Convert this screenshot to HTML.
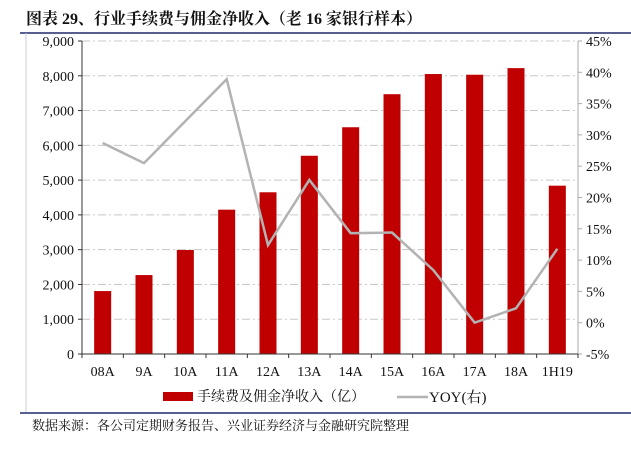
<!DOCTYPE html>
<html><head><meta charset="utf-8"><style>
body{margin:0;background:#fff;width:631px;height:459px;overflow:hidden;font-family:"Liberation Serif","Noto Serif CJK SC",serif;}
text{font-family:"Liberation Serif","Noto Serif CJK SC",serif;}
</style></head><body>
<svg id="c" width="631" height="459">
<text x="26" y="24" font-size="16" font-weight="bold" fill="#111">图表 29、行业手续费与佣金净收入（老 16 家银行样本）</text>
<line x1="20" y1="33" x2="631" y2="33" stroke="#1f2a6b" stroke-width="1.5"/>
<line x1="26" y1="33" x2="26" y2="412" stroke="#c8cbe0" stroke-width="1"/>
<line x1="20" y1="413" x2="631" y2="413" stroke="#1f2a6b" stroke-width="1.5"/>
<g id="grid"></g><g id="bars"></g><g id="axes"></g><g id="line"></g>
<g>
<rect x="163" y="392" width="30" height="9" fill="#c00000"/>
<text x="197" y="401" font-size="14" fill="#111">手续费及佣金净收入（亿）</text>
<line x1="397" y1="397" x2="428" y2="397" stroke="#b3b3b3" stroke-width="2.5"/>
<text x="429" y="402" font-size="15" fill="#111">YOY(右)</text>
</g>
<text x="32" y="430" font-size="13" fill="#111">数据来源：各公司定期财务报告、兴业证券经济与金融研究院整理</text>
</svg>
<script>
const categories=["08A","9A","10A","11A","12A","13A","14A","15A","16A","17A","18A","1H19"];
const income=[1810,2270,2990,4150,4650,5700,6520,7470,8050,8030,8220,4840];
const yoy=[28.7,25.5,32.2,38.9,12.4,22.8,14.3,14.4,8.4,0,2.3,11.8];
const leftTicks=[0,1000,2000,3000,4000,5000,6000,7000,8000,9000];
const rightTicks=[-5,0,5,10,15,20,25,30,35,40,45];
const X0=82,X1=578,Y0=354,Y1=41;
const NS="http://www.w3.org/2000/svg";
const bw=(X1-X0)/categories.length;
const xc=i=>X0+bw*(i+0.5);
const yL=v=>Y0-(v/9000)*(Y0-Y1);
const yR=v=>Y0-((v+5)/50)*(Y0-Y1);
function mk(t,a,p){const e=document.createElementNS(NS,t);for(const k in a)e.setAttribute(k,a[k]);p.appendChild(e);return e;}
const grid=document.getElementById('grid'),bars=document.getElementById('bars'),axes=document.getElementById('axes'),line=document.getElementById('line');
leftTicks.forEach(v=>{
 if(v>0){const g=mk('line',{x1:X0,x2:X1,y1:yL(v),y2:yL(v),stroke:'#c8c8c8','stroke-dasharray':'8 3 2 3'},grid);
 
 }
 const t=mk('text',{x:X0-8,y:yL(v)+5,'text-anchor':'end','font-size':14,fill:'#111'},axes);t.textContent=v.toLocaleString('en-US');
 
 
 const tk=mk('line',{x1:X0-4,x2:X0,y1:yL(v),y2:yL(v),stroke:'#333'},axes);
 
 
});
rightTicks.forEach(v=>{
 const t=mk('text',{x:X1+8,y:yR(v)+5,'font-size':14,fill:'#111'},axes);t.textContent=v+'%';
 
 
 const tk=mk('line',{x1:X1,x2:X1+4,y1:yR(v),y2:yR(v),stroke:'#aaa'},axes);
 
 
});
income.forEach((v,i)=>{
 const r=mk('rect',{x:xc(i)-8.5,y:yL(v),width:17,height:Y0-yL(v),fill:'#c00000'},bars);
 
 
 const t=mk('text',{x:xc(i),y:Y0+22,'text-anchor':'middle','font-size':14,fill:'#111'},axes);t.textContent=categories[i];
 
 
});
for(let i=0;i<=categories.length;i++){const tk=mk('line',{x1:X0+bw*i,x2:X0+bw*i,y1:Y0,y2:Y0+4,stroke:'#333'},axes);
 
 }
const la=mk('line',{x1:X0,x2:X0,y1:Y1,y2:Y0,stroke:'#333'},axes);


const ra=mk('line',{x1:X1,x2:X1,y1:Y1,y2:Y0,stroke:'#aaa'},axes);


const xa=mk('line',{x1:X0,x2:X1,y1:Y0,y2:Y0,stroke:'#333'},axes);


const pl=mk('polyline',{points:yoy.map((v,i)=>xc(i)+','+yR(v)).join(' '),fill:'none',stroke:'#b3b3b3','stroke-width':2.5},line);


</script>
</body></html>
